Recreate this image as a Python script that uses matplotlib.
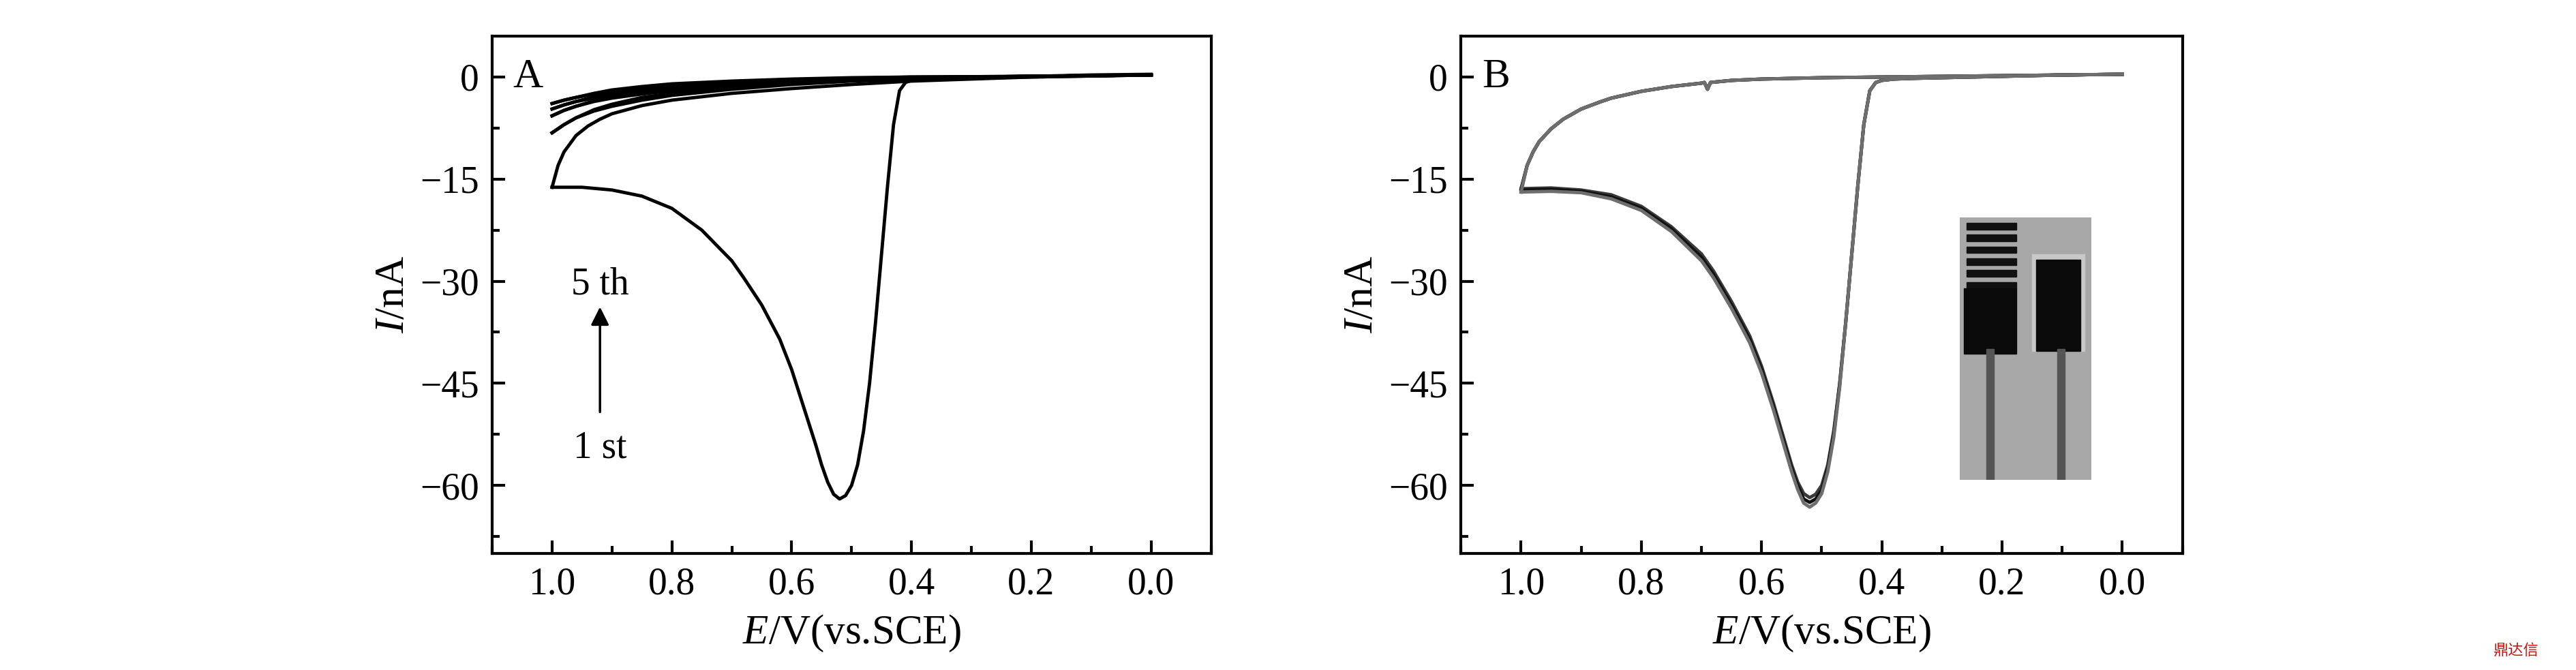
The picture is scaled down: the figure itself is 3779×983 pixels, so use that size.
import matplotlib.pyplot as plt
from matplotlib.patches import Rectangle
from matplotlib.ticker import MultipleLocator

plt.rcParams['font.family'] = ['Liberation Serif', 'DejaVu Serif']
plt.rcParams['mathtext.fontset'] = 'custom'
plt.rcParams['mathtext.it'] = 'Liberation Serif:italic'
plt.rcParams['mathtext.rm'] = 'Liberation Serif'

# Panel A: first cycle, forward (0 -> 1.0 V) and reverse (1.0 -> 0 V)
a1_fwd_E = [0.0, 0.1, 0.2, 0.3, 0.35, 0.38, 0.40, 0.41, 0.42, 0.43, 0.44, 0.45, 0.46, 0.47, 0.48,
            0.49, 0.50, 0.51, 0.52, 0.53, 0.54, 0.55, 0.56, 0.58, 0.60, 0.62, 0.65, 0.68, 0.70,
            0.75, 0.80, 0.85, 0.90, 0.95, 1.0]
a1_fwd_I = [0.4, 0.3, 0.1, -0.1, -0.2, -0.3, -0.5, -0.8, -2, -7, -16, -26, -36, -45, -52,
            -57, -60, -61.5, -62, -61.3, -59.5, -57, -54, -48.5, -43, -38.5, -33.5, -29.5, -27,
            -22.5, -19.3, -17.5, -16.6, -16.2, -16.2]
a1_rev_E = [1.0, 0.99, 0.98, 0.96, 0.94, 0.92, 0.90, 0.85, 0.80, 0.70, 0.60, 0.50, 0.40, 0.30, 0.20, 0.0]
a1_rev_I = [-16.2, -13, -11, -8.6, -7.2, -6.2, -5.4, -4.2, -3.4, -2.4, -1.7, -1.1, -0.6, -0.3, 0.0, 0.3]

# Panel A: cycles 2-5 (small loops near 1.0 V)
cyc_fwd_E = [0.0, 0.2, 0.4, 0.5, 0.6, 0.7, 0.8, 0.85, 0.9, 0.93, 0.96, 0.98, 1.0]
cyc_fwd_I = [
    [0.3, 0.1, -0.2, -0.5, -0.9, -1.5, -2.4, -3.0, -4.0, -4.8, -6.0, -7.0, -8.2],
    [0.3, 0.1, -0.1, -0.3, -0.6, -1.0, -1.7, -2.2, -2.9, -3.5, -4.3, -4.9, -5.7],
    [0.3, 0.1, -0.1, -0.2, -0.4, -0.8, -1.3, -1.7, -2.3, -2.9, -3.6, -4.1, -4.7],
    [0.3, 0.1, 0.0, -0.1, -0.3, -0.6, -1.0, -1.4, -1.9, -2.4, -3.0, -3.4, -3.9],
]
cyc_rev_E = [1.0, 0.98, 0.96, 0.93, 0.90, 0.85, 0.80, 0.70, 0.60, 0.50, 0.40, 0.20, 0.0]
cyc_rev_I = [
    [-8.2, -7.0, -6.0, -5.0, -4.3, -3.4, -2.7, -1.8, -1.1, -0.6, -0.3, 0.0, 0.3],
    [-5.7, -4.9, -4.3, -3.6, -3.1, -2.5, -2.0, -1.3, -0.8, -0.4, -0.2, 0.1, 0.3],
    [-4.7, -4.1, -3.6, -3.1, -2.7, -2.1, -1.7, -1.1, -0.6, -0.3, -0.1, 0.1, 0.3],
    [-3.9, -3.4, -3.0, -2.5, -2.2, -1.7, -1.3, -0.8, -0.5, -0.2, 0.0, 0.1, 0.3],
]

# Panel B: three repeated scans
b_fwd_E = [0.0, 0.1, 0.2, 0.3, 0.35, 0.38, 0.40, 0.41, 0.42, 0.43, 0.44, 0.45, 0.46, 0.47, 0.48,
           0.49, 0.50, 0.51, 0.52, 0.53, 0.54, 0.55, 0.56, 0.58, 0.60, 0.62, 0.65, 0.68, 0.70,
           0.75, 0.80, 0.85, 0.90, 0.95, 1.0]
b_fwd_I = [
    [0.4, 0.3, 0.1, -0.1, -0.2, -0.3, -0.5, -0.8, -2, -7, -16, -26, -36, -45, -52,
     -57, -60, -61.3, -61.8, -61.2, -59.5, -57, -54, -48, -42.5, -38, -33, -28.5, -26,
     -22, -19, -17.3, -16.6, -16.3, -16.4],
    [0.4, 0.3, 0.1, -0.1, -0.2, -0.3, -0.5, -0.8, -2, -7, -16, -26, -36, -45, -52.5,
     -57.5, -60.7, -62, -62.5, -62, -60, -57.5, -54.5, -48.5, -43, -38.5, -33.5, -29, -26.5,
     -22.3, -19.3, -17.6, -16.8, -16.5, -16.6],
    [0.4, 0.3, 0.1, -0.1, -0.2, -0.3, -0.5, -0.8, -2, -7, -16, -26, -36, -45.5, -53,
     -58, -61.2, -62.6, -63.2, -62.6, -60.6, -58, -55, -49, -43.5, -39, -34, -29.5, -27,
     -22.7, -19.6, -17.9, -17.0, -16.8, -16.9],
]
b_rev_E = [1.0, 0.99, 0.98, 0.97, 0.95, 0.93, 0.90, 0.87, 0.85, 0.80, 0.75, 0.70, 0.695, 0.69, 0.685,
           0.65, 0.60, 0.50, 0.40, 0.20, 0.0]
b_rev_I = [-16.4, -13, -11, -9.5, -7.6, -6.2, -4.7, -3.7, -3.1, -2.1, -1.4, -0.9, -0.8, -1.8, -0.8,
           -0.5, -0.3, -0.1, 0.0, 0.2, 0.4]
b_colors = ['#3a3a3a', '#111111', '#6e6e6e']

fig = plt.figure(figsize=(37.8, 9.83), dpi=100)
axA = fig.add_axes([0.191, 0.174, 0.279, 0.772])
axB = fig.add_axes([0.567, 0.174, 0.280, 0.772])

axA.plot(a1_fwd_E, a1_fwd_I, color='black', lw=3.5)
axA.plot(a1_rev_E, a1_rev_I, color='black', lw=3.5)
for f, r in zip(cyc_fwd_I, cyc_rev_I):
    axA.plot(cyc_fwd_E, f, color='black', lw=3.5)
    axA.plot(cyc_rev_E, r, color='black', lw=3.5)

for f, c in zip(b_fwd_I, b_colors):
    axB.plot(b_fwd_E, f, color=c, lw=3.5)
    rev = list(b_rev_I)
    rev[0] = f[-1]
    axB.plot(b_rev_E, rev, color=c, lw=3.5)

for ax, lab in [(axA, 'A'), (axB, 'B')]:
    ax.set_xlim(1.1, -0.1)
    ax.set_ylim(-70, 6)
    ax.xaxis.set_minor_locator(MultipleLocator(0.1))
    ax.yaxis.set_minor_locator(MultipleLocator(7.5))
    ax.set_xticks([1.0, 0.8, 0.6, 0.4, 0.2, 0.0])
    ax.set_xticklabels(['1.0', '0.8', '0.6', '0.4', '0.2', '0.0'])
    ax.set_yticks([0, -15, -30, -45, -60])
    ax.set_yticklabels(['0', '\u221215', '\u221230', '\u221245', '\u221260'])
    ax.tick_params(which='both', direction='in', labelsize=40, width=3, pad=14)
    ax.tick_params(which='major', length=14)
    ax.tick_params(which='minor', length=8)
    for s in ax.spines.values():
        s.set_linewidth(3)
    ax.set_xlabel('$E$/V(vs.SCE)', fontsize=44, labelpad=12)
    ax.set_ylabel('$I$/nA', fontsize=44, labelpad=8)
    ax.text(1.065, 0, lab, fontsize=44, va='center', ha='left')

axA.annotate('', xy=(0.92, -33.5), xytext=(0.92, -49.5),
             arrowprops=dict(arrowstyle='-|>', color='black', lw=2.5, mutation_scale=40))
axA.text(0.92, -30.5, '5 th', fontsize=40, ha='center', va='center')
axA.text(0.92, -54.5, '1 st', fontsize=40, ha='center', va='center')

# inset photo of the electrodes, drawn with patches
ins = fig.add_axes([0.7606, 0.284, 0.051, 0.391])
ins.set_xlim(0, 1)
ins.set_ylim(0, 1)
ins.axis('off')
ins.add_patch(Rectangle((0, 0), 1, 1, color='#a8a8a8'))
for k in range(6):
    ins.add_patch(Rectangle((0.05, 0.955 - k * 0.045), 0.38, 0.025, color='#111111'))
ins.add_patch(Rectangle((0.03, 0.48), 0.40, 0.25, color='#0a0a0a'))
ins.add_patch(Rectangle((0.55, 0.49), 0.40, 0.37, color='#c8c8c8'))
ins.add_patch(Rectangle((0.58, 0.49), 0.34, 0.35, color='#0a0a0a'))
ins.add_patch(Rectangle((0.20, 0.0), 0.06, 0.50, color='#555555'))
ins.add_patch(Rectangle((0.74, 0.0), 0.06, 0.50, color='#555555'))

fig.text(0.985, 0.018, '鼎达信', color='#cc1111', fontsize=16, ha='right', va='bottom',
         family=['Noto Sans CJK SC', 'DejaVu Sans'])

fig.savefig('out.png', dpi=100)
